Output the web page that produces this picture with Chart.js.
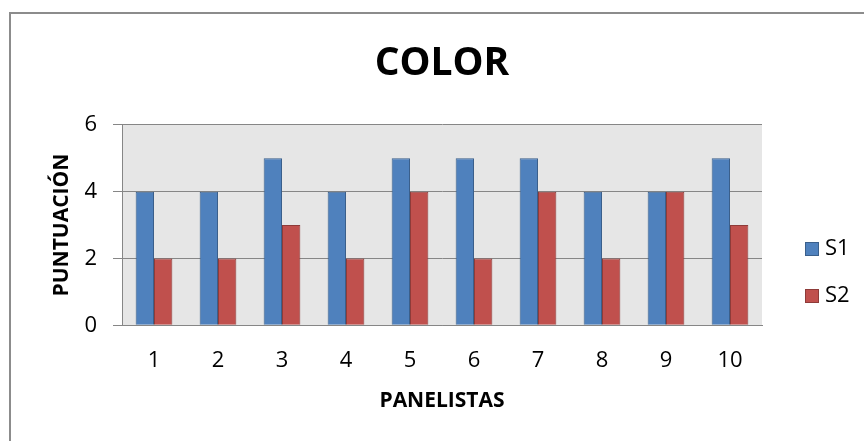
<!DOCTYPE html>
<html>
<head>
<meta charset="utf-8">
<script src="https://cdn.jsdelivr.net/npm/chart.js@4/dist/chart.umd.min.js"></script>
<style>
  html, body { margin: 0; padding: 0; background: #ffffff; overflow: hidden; }
  #wrap { position: relative; width: 864px; height: 441px; }
</style>
</head>
<body>
<div id="wrap"><canvas id="chart" width="864" height="441"></canvas></div>
<script>
// Puntuaciones de color por panelista
const panelistas = ['1', '2', '3', '4', '5', '6', '7', '8', '9', '10'];
const s1 = [4, 4, 5, 4, 5, 5, 5, 4, 4, 5];
const s2 = [2, 2, 3, 2, 4, 2, 4, 2, 4, 3];
const yTicks = [0, 2, 4, 6];
const yTitle = 'PUNTUACIÓN';

const FONT = "'Open Sans', 'DejaVu Sans', sans-serif";

// Marco exterior y fondo gris del área de trazado
const framePlugin = {
  id: 'frame',
  beforeDraw(chart) {
    const { ctx, chartArea: a } = chart;
    ctx.save();
    ctx.fillStyle = '#ffffff';
    ctx.fillRect(0, 0, chart.width, chart.height);
    ctx.strokeStyle = '#8c8c8c';
    ctx.lineWidth = 2;
    ctx.strokeRect(10, 13, 1000, 1000);
    ctx.fillStyle = '#e6e6e6';
    ctx.fillRect(a.left, a.top, a.right - a.left, a.bottom - a.top);
    ctx.restore();
  }
};

// Título vertical del eje Y y leyenda a la derecha
const sidePlugin = {
  id: 'sideTexts',
  afterDraw(chart) {
    const { ctx, chartArea: a } = chart;
    ctx.save();
    ctx.setTransform(1, 0, 0, 1, 0, 0);
    ctx.font = 'bold 21px ' + FONT;
    ctx.fillStyle = '#000000';
    ctx.textAlign = 'center';
    ctx.textBaseline = 'alphabetic';
    ctx.translate(a.left - 54, (a.top + a.bottom) / 2);
    ctx.rotate(-Math.PI / 2);
    ctx.fillText(yTitle, 0, 0);
    ctx.restore();

    const rows = [249, 296];
    ctx.save();
    ctx.font = '22px ' + FONT;
    ctx.textBaseline = 'middle';
    chart.data.datasets.forEach((ds, i) => {
      const cy = rows[i];
      ctx.fillStyle = ds.backgroundColor;
      ctx.fillRect(805, cy - 7, 14, 14);
      ctx.strokeStyle = ds.borderColor;
      ctx.lineWidth = 1;
      ctx.strokeRect(805.5, cy - 6.5, 13, 13);
      ctx.fillStyle = '#000000';
      ctx.fillText(ds.label, 825, cy);
    });
    ctx.restore();
  }
};

new Chart(document.getElementById('chart'), {
  type: 'bar',
  data: {
    labels: panelistas,
    datasets: [
      { label: 'S1', data: s1, backgroundColor: '#4f81bd', borderColor: '#3a5f8b', borderWidth: 1 },
      { label: 'S2', data: s2, backgroundColor: '#c0504d', borderColor: '#8e3b39', borderWidth: 1 }
    ]
  },
  options: {
    responsive: false,
    animation: false,
    devicePixelRatio: 1,
    layout: { padding: { top: 0, left: 0, right: 102, bottom: 0 } },
    datasets: { bar: { categoryPercentage: 0.573, barPercentage: 1.0 } },
    plugins: {
      legend: { display: false },
      tooltip: { enabled: false },
      title: {
        display: true,
        fullSize: false,
        text: 'COLOR',
        color: '#000000',
        font: { family: FONT, size: 39, weight: 'bold', lineHeight: 1.2 },
        padding: { top: 40, bottom: 38 }
      }
    },
    scales: {
      x: {
        grid: { display: false, drawTicks: false },
        border: { display: true, color: '#868686', width: 1 },
        ticks: { color: '#000000', padding: 22, font: { family: FONT, size: 22, lineHeight: 1.2 } },
        title: {
          display: true,
          text: 'PANELISTAS',
          color: '#000000',
          font: { family: FONT, size: 21, weight: 'bold', lineHeight: 0.5 },
          padding: { top: 0, bottom: 34.75 }
        }
      },
      y: {
        min: 0,
        max: 6,
        afterBuildTicks(scale) { scale.ticks = yTicks.map(v => ({ value: v })); },
        afterFit(scale) { scale.width = 122; },
        grid: { color: '#868686', lineWidth: 1, drawTicks: true, tickLength: 9, tickColor: '#868686' },
        border: { display: true, color: '#868686', width: 1 },
        ticks: { color: '#000000', padding: 16, font: { family: FONT, size: 22, lineHeight: 1.2 } },
        title: { display: false }
      }
    }
  },
  plugins: [framePlugin, sidePlugin]
});
</script>
</body>
</html>
